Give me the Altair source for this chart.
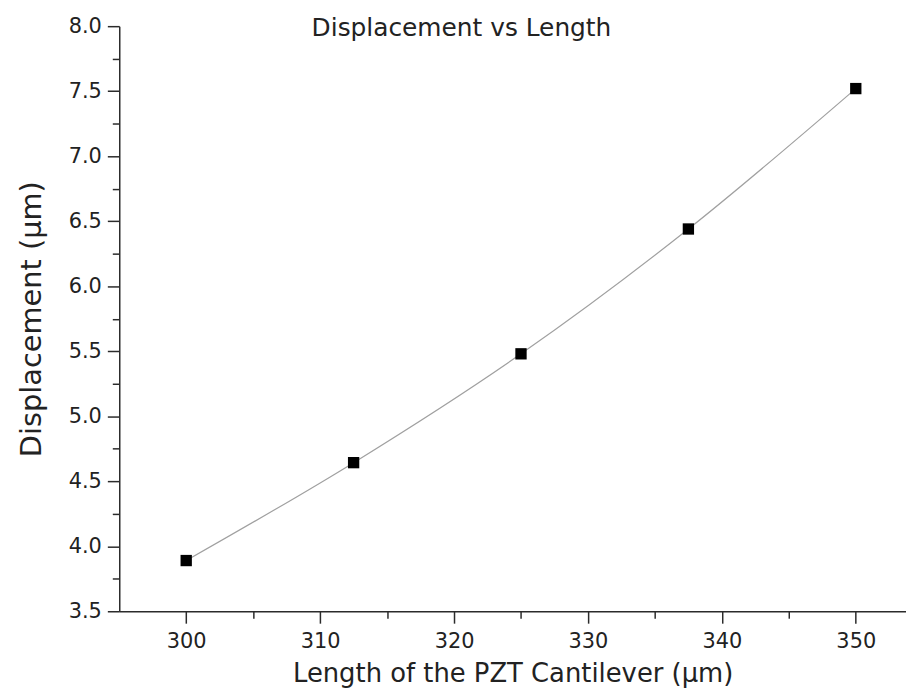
import altair as alt
import pandas as pd

# ---- data ----
lengths = [300, 312.5, 325, 337.5, 350]
displacements = [3.89, 4.643, 5.48, 6.44, 7.52]

x_major = [300, 310, 320, 330, 340, 350]
x_minor = [305, 315, 325, 335, 345]
y_major = [3.5, 4.0, 4.5, 5.0, 5.5, 6.0, 6.5, 7.0, 7.5, 8.0]
y_minor = [3.75, 4.25, 4.75, 5.25, 5.75, 6.25, 6.75, 7.25, 7.75]

chart_title = "Displacement vs Length"
x_title = "Length of the PZT Cantilever (µm)"
y_title = "Displacement (µm)"

df = pd.DataFrame({"length": lengths, "disp": displacements})

FONT = "DejaVu Sans"
AX = "#2b2b2b"
TXT = "#222222"

xs = alt.Scale(domain=[295, 353.75], nice=False, zero=False)
ys = alt.Scale(domain=[3.5, 8.0], nice=False, zero=False)

x_major_axis = alt.Axis(
    orient="bottom", values=x_major, format="d", grid=False,
    tickSize=12, tickWidth=1.5, tickColor=AX, domainColor=AX, domainWidth=1.5,
    labelFontSize=21, labelColor=TXT, labelPadding=7, labelFont=FONT,
    title=x_title, titleFontSize=26,
    titleFontWeight="normal", titleColor=TXT, titlePadding=10, titleFont=FONT,
)
y_major_axis = alt.Axis(
    orient="left", values=y_major, format=".1f", grid=False,
    tickSize=12, tickWidth=1.5, tickColor=AX, domainColor=AX, domainWidth=1.5,
    labelFontSize=21, labelColor=TXT, labelPadding=6, labelFont=FONT,
    title=y_title, titleFontSize=29,
    titleFontWeight="normal", titleColor=TXT, titlePadding=22, titleFont=FONT,
)
x_minor_axis = alt.Axis(
    orient="bottom", values=x_minor, grid=False, labels=False, domain=False,
    tickSize=7, tickWidth=1.5, tickColor=AX, title=None,
)
y_minor_axis = alt.Axis(
    orient="left", values=y_minor, grid=False, labels=False, domain=False,
    tickSize=7, tickWidth=1.5, tickColor=AX, title=None,
)
# chart title drawn as the title of an otherwise empty top axis,
# so that it sits inside the top of the plot area as in the reference
x_top_axis = alt.Axis(
    orient="top", domain=False, ticks=False, labels=False, grid=False,
    title=chart_title, titleFontSize=25, titleFontWeight="normal",
    titleColor=TXT, titleFont=FONT, titleX=344, titleY=9,
    titleBaseline="alphabetic", titleAlign="center",
)

line = alt.Chart(df).mark_line(
    color="#a0a0a0", strokeWidth=1.2, interpolate="monotone"
).encode(
    x=alt.X("length:Q", scale=xs, axis=x_major_axis),
    y=alt.Y("disp:Q", scale=ys, axis=y_major_axis),
)

points = alt.Chart(df).mark_point(
    shape="square", filled=True, color="#000000", size=130, opacity=1
).encode(
    x=alt.X("length:Q", scale=xs, axis=x_minor_axis),
    y=alt.Y("disp:Q", scale=ys, axis=y_minor_axis),
)

title_layer = alt.Chart(df).mark_line(opacity=0).encode(
    x=alt.X("length:Q", scale=xs, axis=x_top_axis),
    y=alt.Y("disp:Q", scale=ys, axis=None),
)

chart = alt.layer(line, points, title_layer).resolve_axis(
    x="independent", y="independent"
).properties(
    width=792,
    height=589,
    padding={"left": 9, "right": 0, "top": 5, "bottom": 5},
).configure(font=FONT).configure_view(stroke=None)

chart.save("out.html", embed_options={"renderer": "svg", "actions": False})
